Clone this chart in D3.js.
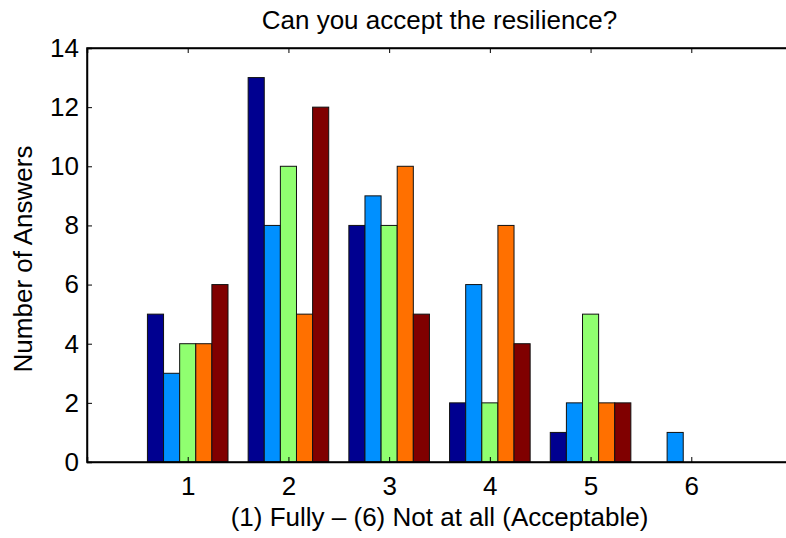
<!DOCTYPE html>
<html><head><meta charset="utf-8">
<script src="https://cdn.jsdelivr.net/npm/d3@7"></script>
<style>body{margin:0;background:#fff}svg{display:block}text{font-family:"Liberation Sans",Arial,sans-serif;fill:#000}</style>
</head><body>
<script>
const categories = [1, 2, 3, 4, 5, 6];
const series1 = [5, 13, 8, 2, 1, 0];
const series2 = [3, 8, 9, 6, 2, 1];
const series3 = [4, 10, 8, 2, 5, 0];
const series4 = [4, 5, 10, 8, 2, 0];
const series5 = [6, 12, 5, 4, 2, 0];
const seriesColors = ["#000090", "#0090ff", "#90ff70", "#ff7000", "#800000"];
const yTicks = [0, 2, 4, 6, 8, 10, 12, 14];
const title = "Can you accept the resilience?";
const xLabel = "(1) Fully \u2013 (6) Not at all (Acceptable)";
const yLabel = "Number of Answers";

const series = [series1, series2, series3, series4, series5];
const W = 786, H = 538;
const m = {left: 87, right: 792, top: 48, bottom: 462};
const FS = "26px";
const svg = d3.select("body").append("svg").attr("width", W).attr("height", H);

const x = d3.scaleLinear().domain([0, 7]).range([m.left, m.right]);
const y = d3.scaleLinear().domain([0, 14]).range([m.bottom, m.top]);
const groupW = 0.8, barW = groupW / series.length;

// bars
series.forEach((vals, si) => {
  svg.append("g").selectAll("rect").data(vals.map((v, i) => ({v, c: categories[i]})))
    .enter().append("rect")
    .attr("x", d => x(d.c - groupW / 2 + si * barW))
    .attr("width", d => x(barW) - x(0))
    .attr("y", d => y(d.v))
    .attr("height", d => y(0) - y(d.v))
    .attr("fill", seriesColors[si])
    .attr("stroke", "#111")
    .attr("stroke-width", 1);
});

// axes (MATLAB-style box with inward ticks)
const tl = 5, fmt = d3.format("d");
const axL = svg.append("g").attr("transform", `translate(${m.left},0)`)
  .call(d3.axisLeft(y).tickValues(yTicks).tickSize(-tl).tickPadding(8).tickFormat(fmt));
const axR = svg.append("g").attr("transform", `translate(${m.right},0)`)
  .call(d3.axisRight(y).tickValues(yTicks).tickSize(-tl).tickFormat(""));
const axB = svg.append("g").attr("transform", `translate(0,${m.bottom})`)
  .call(d3.axisBottom(x).tickValues(categories).tickSize(-tl).tickPadding(15).tickFormat(fmt));
const axT = svg.append("g").attr("transform", `translate(0,${m.top})`)
  .call(d3.axisTop(x).tickValues(categories).tickSize(-tl).tickFormat(""));
[axL, axR, axB, axT].forEach(g => {
  g.select(".domain").attr("stroke", "#000").attr("stroke-width", 1.5);
  g.selectAll(".tick line").attr("stroke", "#000").attr("stroke-width", 1);
  g.selectAll("text").style("font-size", FS).attr("fill", "#000");
});
svg.append("rect").attr("x", m.left).attr("y", m.top)
  .attr("width", m.right - m.left).attr("height", m.bottom - m.top)
  .attr("fill", "none").attr("stroke", "#000").attr("stroke-width", 1.5);

svg.append("text").attr("x", (m.left + m.right) / 2).attr("y", 29)
  .attr("text-anchor", "middle").style("font-size", FS).text(title);
svg.append("text").attr("x", (m.left + m.right) / 2).attr("y", 526)
  .attr("text-anchor", "middle").style("font-size", FS).text(xLabel);
svg.append("text").attr("transform", `translate(32,${(m.top + m.bottom) / 2 + 4}) rotate(-90)`)
  .attr("text-anchor", "middle").style("font-size", FS).text(yLabel);
</script>
</body></html>
